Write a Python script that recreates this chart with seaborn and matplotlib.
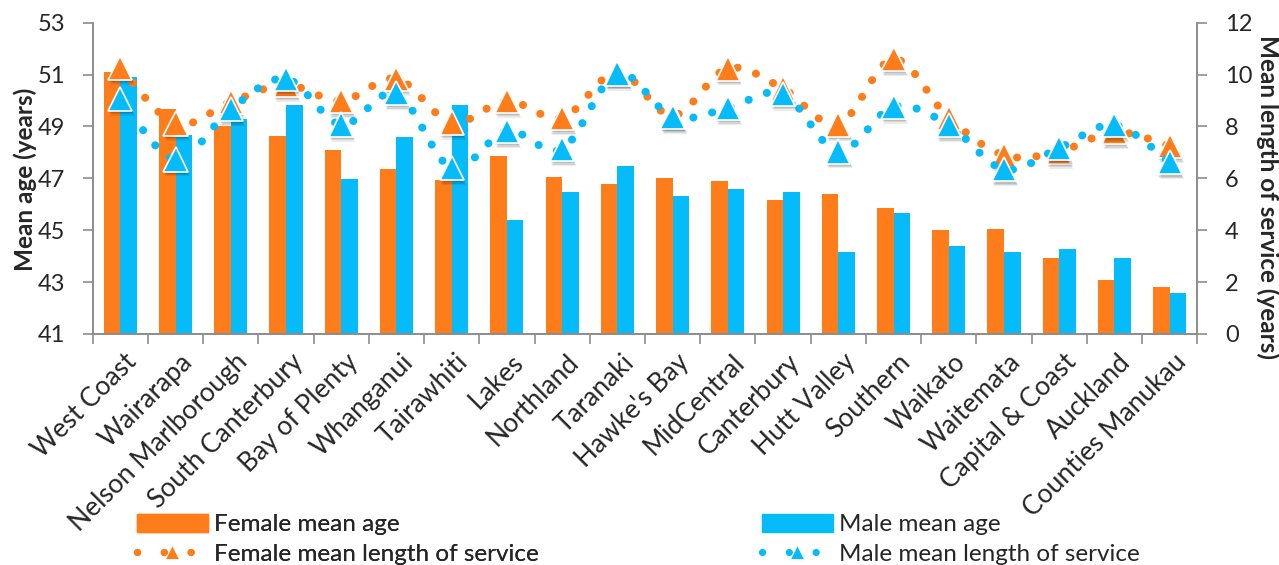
import numpy as np
import pandas as pd
import seaborn as sns
import matplotlib
matplotlib.use("Agg")
import matplotlib.pyplot as plt
import matplotlib.transforms as mtransforms
from matplotlib.path import Path
from matplotlib.patches import PathPatch, Patch
from matplotlib.lines import Line2D
import matplotlib.patheffects as pe

# District health boards, ordered by female mean age
dhbs = ["West Coast", "Wairarapa", "Nelson Marlborough", "South Canterbury",
        "Bay of Plenty", "Whanganui", "Tairawhiti", "Lakes", "Northland",
        "Taranaki", "Hawke's Bay", "MidCentral", "Canterbury", "Hutt Valley",
        "Southern", "Waikato", "Waitemata", "Capital & Coast", "Auckland",
        "Counties Manukau"]

# Mean age (years), left axis
female_age = [51.11, 49.67, 49.02, 48.63, 48.10, 47.37, 46.94, 47.86, 47.07, 46.77,
              47.00, 46.89, 46.15, 46.38, 45.86, 45.00, 45.03, 43.92, 43.07, 42.82]
male_age = [50.90, 48.67, 49.28, 49.82, 46.96, 48.59, 49.82, 45.39, 46.47, 47.49,
            46.33, 46.60, 46.46, 44.17, 45.66, 44.40, 44.18, 44.27, 43.92, 42.57]

# Mean length of service (years), right axis
female_los = [10.26, 8.11, 8.94, 9.61, 8.98, 9.84, 8.15, 8.99, 8.33, 10.10,
              8.42, 10.24, 9.46, 8.08, 10.60, 8.33, 6.89, 7.03, 7.79, 7.25]
male_los = [9.07, 6.73, 8.67, 9.84, 8.07, 9.28, 6.40, 7.83, 7.13, 10.04,
            8.37, 8.71, 9.26, 7.04, 8.76, 8.06, 6.35, 7.17, 8.06, 6.62]

ORANGE = "#FF7C1A"
BLUE = "#06BBFA"
GREY = "#8C8C8C"
TXT = 17.5

sns.set_style("white")
plt.rcParams["font.family"] = ["Lato", "DejaVu Sans"]

df = pd.DataFrame({
    "DHB": dhbs * 2,
    "Sex": ["Female"] * len(dhbs) + ["Male"] * len(dhbs),
    "age": female_age + male_age,
})

W, H = 1279, 565
fig = plt.figure(figsize=(W / 100, H / 100), dpi=100)
ax = fig.add_axes([92.7 / W, 1 - 334 / H, (1197.3 - 92.7) / W, (334 - 22.7) / H])

sns.barplot(data=df, x="DHB", y="age", hue="Sex", hue_order=["Female", "Male"],
            order=dhbs, palette=[ORANGE, BLUE], saturation=1, width=0.6,
            legend=False, ax=ax, linewidth=0, zorder=2)
ax.set_xlim(-0.5, len(dhbs) - 0.5)
ax.set_ylim(41, 53)
ax.set_yticks(np.arange(41, 54, 2))
ax.set_xlabel("")
ax.set_ylabel("")

ax2 = ax.twinx()
ax2.set_ylim(0, 12)
ax2.set_yticks(np.arange(0, 13, 2))


def smooth_path(xs, ys):
    """Cubic Bezier path through the points, with tangents from the neighbours."""
    pts = np.column_stack([xs, ys]).astype(float)
    n = len(pts)
    verts = [pts[0]]
    codes = [Path.MOVETO]
    for i in range(n - 1):
        p0 = pts[max(i - 1, 0)]
        p1 = pts[i]
        p2 = pts[i + 1]
        p3 = pts[min(i + 2, n - 1)]
        verts += [p1 + (p2 - p0) / 6, p2 - (p3 - p1) / 6, p2]
        codes += [Path.CURVE4] * 3
    return Path(verts, codes)


dot_style = (0, (0.01, 2.4))
# soft drop shadow under the triangle markers
shadow = [pe.SimplePatchShadow(offset=(0.5, -1.5), shadow_rgbFace="k", alpha=0.10),
          pe.SimplePatchShadow(offset=(1.0, -2.5), shadow_rgbFace="k", alpha=0.10),
          pe.SimplePatchShadow(offset=(1.5, -3.5), shadow_rgbFace="k", alpha=0.08),
          pe.Normal()]
xs = np.arange(len(dhbs))
for k, (vals, col) in enumerate([(female_los, ORANGE), (male_los, BLUE)]):
    curve = PathPatch(smooth_path(xs, vals), fill=False, edgecolor=col, lw=5.8,
                      linestyle=dot_style, capstyle="round", zorder=3 + 2 * k)
    ax2.add_patch(curve)
    ax2.plot(xs, vals, linestyle="none", marker="^", ms=17.5, mfc=col, mec="white",
             mew=1.2, zorder=4 + 2 * k, path_effects=shadow)

# Axes styling
for a in (ax, ax2):
    a.spines["top"].set_visible(False)
    for s in ("left", "right", "bottom"):
        a.spines[s].set_color(GREY)
        a.spines[s].set_linewidth(1.2)

ax.tick_params(axis="y", length=7, width=1.2, color=GREY, labelsize=17, pad=13,
               direction="out", left=True)
ax2.tick_params(axis="y", length=7, width=1.2, color=GREY, labelsize=17, pad=13,
                direction="out", right=True)
ax.set_xticks(xs)
ax.set_xticks(np.arange(-0.5, len(dhbs), 1), minor=True)
ax.tick_params(axis="x", which="major", length=0, pad=11)
ax.tick_params(axis="x", which="minor", length=7, width=1.2, color=GREY,
               direction="out", bottom=True)
ax.set_xticklabels(dhbs, rotation=45, ha="right", va="top", rotation_mode="anchor",
                   fontsize=19)
offset = mtransforms.ScaledTranslation(4 / 100, 0, fig.dpi_scale_trans)
for lbl in ax.get_xticklabels():
    lbl.set_transform(lbl.get_transform() + offset)

fig.text(25 / W, 1 - 179 / H, "Mean age (years)", rotation=90, ha="center",
         va="center", fontsize=TXT, fontweight="bold")
fig.text(1268 / W, 1 - 197 / H, "Mean length of service (years)", rotation=270,
         ha="center", va="center", fontsize=TXT, fontweight="bold")


# Legend: two columns pinned at the bottom
def los_handle(col):
    return Line2D([], [], color=col, lw=5.2, linestyle=(0, (0.01, 3.7)),
                  dash_capstyle="round", marker="^", ms=10, mfc=col, mec="white",
                  mew=0.6)


common = dict(loc="upper left", frameon=False, fontsize=TXT, handlelength=2.92,
              handleheight=0.74, handletextpad=0.25, labelspacing=0.33,
              borderpad=0, borderaxespad=0, numpoints=1)
leg1 = fig.legend([Patch(color=ORANGE), los_handle(ORANGE)],
                  ["Female mean age", "Female mean length of service"],
                  bbox_to_anchor=(137 / W, 1 - 514 / H), **common)
fig.add_artist(leg1)
leg2 = fig.legend([Patch(color=BLUE), los_handle(BLUE)],
                  ["Male mean age", "Male mean length of service"],
                  bbox_to_anchor=(762 / W, 1 - 514 / H), **common)

fig.savefig("out.png", dpi=100)
